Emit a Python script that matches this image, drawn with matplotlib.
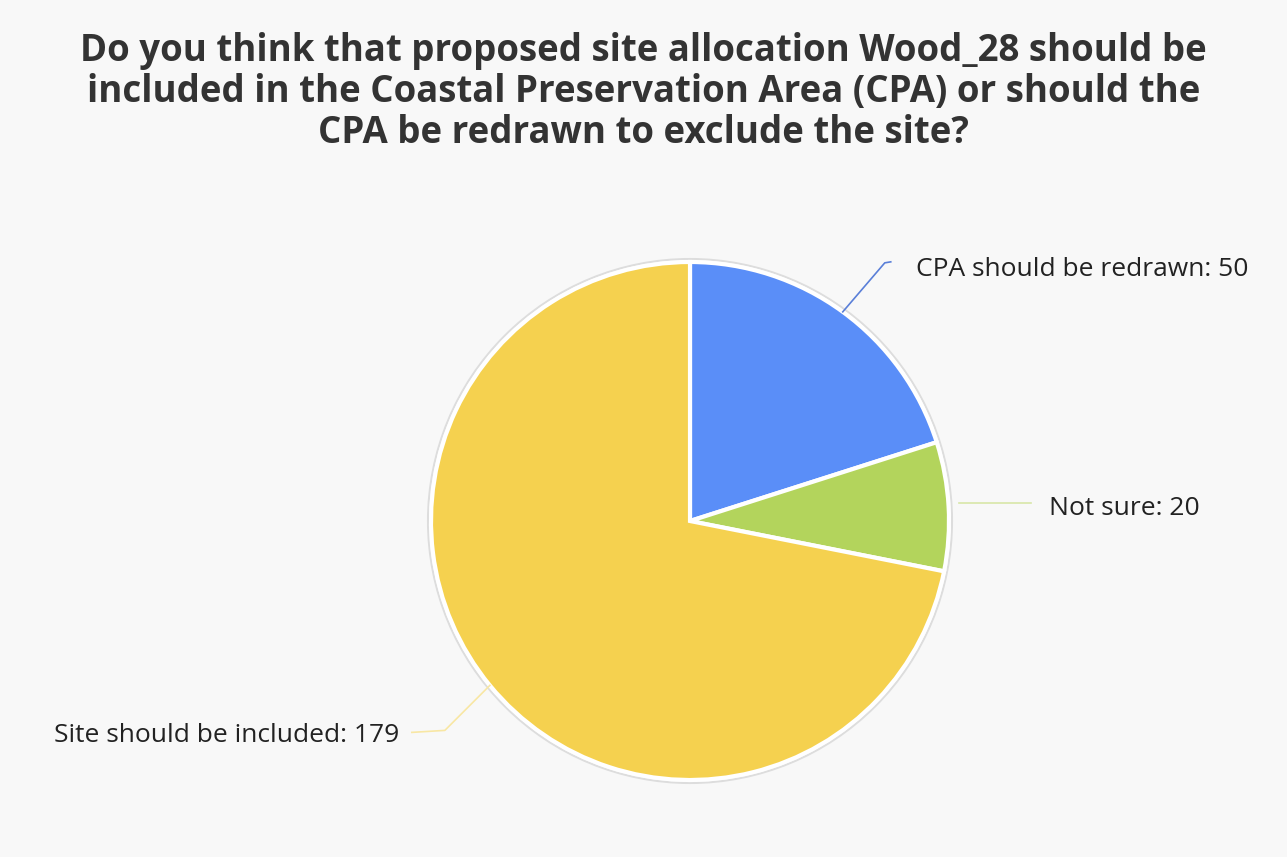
import numpy as np
import matplotlib
matplotlib.use("Agg")
import matplotlib.pyplot as plt

categories = ["CPA should be redrawn", "Not sure", "Site should be included"]
values = [50, 20, 179]
colors = ["#5a8ef8", "#b3d45c", "#f5d14f"]
line_colors = ["#5a7fd8", "#d8e6a8", "#f8e7a4"]

title = ("Do you think that proposed site allocation Wood_28 should be\n"
         "included in the Coastal Preservation Area (CPA) or should the\n"
         "CPA be redrawn to exclude the site?")

W, H = 1287, 857
fig = plt.figure(figsize=(W / 100, H / 100), dpi=100)
fig.patch.set_facecolor("#f8f8f8")

fig.text(0.5, 1 - 92 / H, title, ha="center", va="center",
         fontsize=26.4, fontweight="bold", family="Open Sans", color="#333333",
         linespacing=1.12)

# axes in pixel-like units centred on the pie
cx, cy, R = 690, 521, 259
half = 320
ax = fig.add_axes([(cx - half) / W, (H - cy - half) / H, 2 * half / W, 2 * half / H])

# faint outline around the pie
ax.add_patch(plt.Circle((0, 0), R + 3, facecolor="none", edgecolor="#dddddd", lw=1.5))

wedges, _ = ax.pie(values, colors=colors, startangle=90, counterclock=False,
                   radius=R, center=(0, 0), frame=True,
                   wedgeprops=dict(edgecolor="white", linewidth=3))
ax.set_xlim(-half, half)
ax.set_ylim(-half, half)
ax.set_aspect("equal")
ax.axis("off")

total = sum(values)
cum = np.cumsum([0] + values)
label_style = dict(fontsize=19, family="Open Sans", color="#222222", va="center")
for i, (cat, v) in enumerate(zip(categories, values)):
    mid = np.deg2rad(90 - (cum[i] + v / 2) / total * 360)
    x0, y0 = R * np.cos(mid), R * np.sin(mid)
    text = f"{cat}: {v}"
    if i == 0:
        pts = [(x0, y0), (x0 + 42, y0 + 49), (x0 + 48, y0 + 50)]
        tx, ty, ha = pts[-1][0] + 25, pts[-1][1] - 8, "left"
    elif i == 1:
        pts = [(x0 + 10, y0 + 3), (x0 + 82, y0 + 3)]
        tx, ty, ha = pts[-1][0] + 18, y0 - 2, "left"
    else:
        pts = [(x0, y0), (x0 - 45, y0 - 45), (x0 - 78, y0 - 47)]
        tx, ty, ha = pts[-1][0] - 13, pts[-1][1] - 3, "right"
    xs, ys = zip(*pts)
    ax.plot(xs, ys, color=line_colors[i], lw=1.2, clip_on=False)
    ax.text(tx, ty, text, ha=ha, clip_on=False, **label_style)

fig.savefig("out.png", dpi=100, facecolor=fig.get_facecolor())
